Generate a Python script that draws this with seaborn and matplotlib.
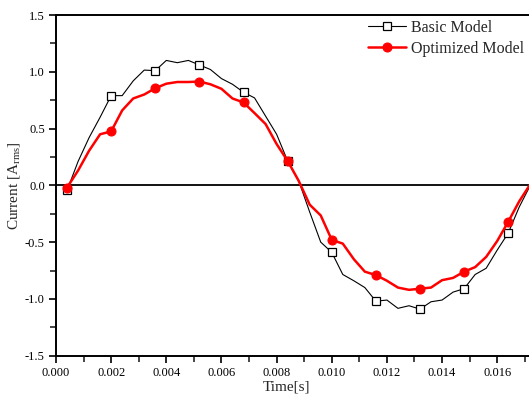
import numpy as np
import pandas as pd
import matplotlib
matplotlib.use("Agg")
import matplotlib.pyplot as plt
import seaborn as sns

# Sample times [s]: one sample every 0.4 ms
time_s = [0.0004 * k for k in range(1, 44)]

basic_model = [
    -0.045, 0.21, 0.42, 0.60, 0.79, 0.79, 0.92, 1.015, 1.01, 1.10,
    1.08, 1.10, 1.06, 1.02, 0.94, 0.89, 0.82, 0.77, 0.61, 0.45,
    0.215, 0.04, -0.235, -0.50, -0.59, -0.785, -0.84, -0.90, -1.02, -1.01,
    -1.083, -1.06, -1.09, -1.025, -1.01, -0.94, -0.91, -0.785, -0.73, -0.57,
    -0.42, -0.19, 0.0,
]

optimized_model = [
    -0.02, 0.13, 0.305, 0.45, 0.475, 0.66, 0.765, 0.80, 0.855, 0.895,
    0.91, 0.91, 0.914, 0.89, 0.85, 0.765, 0.73, 0.636, 0.54, 0.364,
    0.215, 0.04, -0.17, -0.265, -0.48, -0.513, -0.65, -0.76, -0.79, -0.84,
    -0.90, -0.92, -0.91, -0.90, -0.835, -0.815, -0.76, -0.72, -0.63, -0.49,
    -0.32, -0.14, 0.01,
]

x_ticks = [0.000, 0.002, 0.004, 0.006, 0.008, 0.010, 0.012, 0.014, 0.016]
y_ticks = [-1.5, -1.0, -0.5, 0.0, 0.5, 1.0, 1.5]

df = pd.DataFrame({"t": time_s, "basic": basic_model, "opt": optimized_model})

sns.set_style("white")
plt.rcParams["font.family"] = ["Liberation Serif", "DejaVu Serif"]
plt.rcParams["axes.unicode_minus"] = False
plt.rcParams["mathtext.fontset"] = "custom"
plt.rcParams["mathtext.rm"] = "Liberation Serif"
plt.rcParams["mathtext.it"] = "Liberation Serif:italic"

fig = plt.figure(figsize=(5.29, 3.94), dpi=100)
ax = fig.add_axes([56 / 529, 38.3 / 394, 474.3 / 529, 340.7 / 394])

every4 = slice(0, None, 4)
sns.lineplot(data=df, x="t", y="basic", ax=ax, color="black", linewidth=0.8,
             marker="s", markersize=5.5, markerfacecolor="white",
             markeredgecolor="black", markeredgewidth=0.9,
             markevery=every4, label="Basic Model")
sns.lineplot(data=df, x="t", y="opt", ax=ax, color="#ff0000", linewidth=1.8,
             marker="o", markersize=6.5, markerfacecolor="#ff0000",
             markeredgecolor="#ff0000", markevery=every4,
             label="Optimized Model")

ax.axhline(0.0, color="black", linewidth=1.3, zorder=1)

ax.set_xlim(0.0, 0.0172)
ax.set_ylim(-1.5, 1.5)
ax.set_xticks(x_ticks)
ax.set_xticklabels([f"{v:.3f}" for v in x_ticks])
ax.set_yticks(y_ticks)
ax.set_yticklabels([f"{v:.1f}" for v in y_ticks])
ax.set_xticks(np.arange(0.001, 0.0172, 0.002), minor=True)
ax.set_yticks(np.arange(-1.25, 1.5, 0.5), minor=True)

ax.tick_params(which="major", direction="out", length=5, width=1.2,
               labelsize=9, pad=3, bottom=True, left=True, colors="black")
ax.tick_params(which="minor", direction="out", length=4, width=1.2,
               bottom=True, left=True)

for name, sp in ax.spines.items():
    sp.set_color("black")
    sp.set_linewidth(1.4)

ax.set_xlabel("Time[s]", fontsize=11, labelpad=0)
ax.set_ylabel(r"Current [A$_{\mathrm{rms}}$]", fontsize=11, labelpad=2)
ax.xaxis.set_label_coords(0.485, -0.072)

ax.legend(loc="upper left", bbox_to_anchor=(368 / 529, 1 - 20 / 394),
          bbox_transform=fig.transFigure, frameon=False, fontsize=11.5,
          handlelength=2.4, handletextpad=0.3, borderpad=0,
          borderaxespad=0, labelspacing=0.3)

fig.savefig("out.png", dpi=100)
